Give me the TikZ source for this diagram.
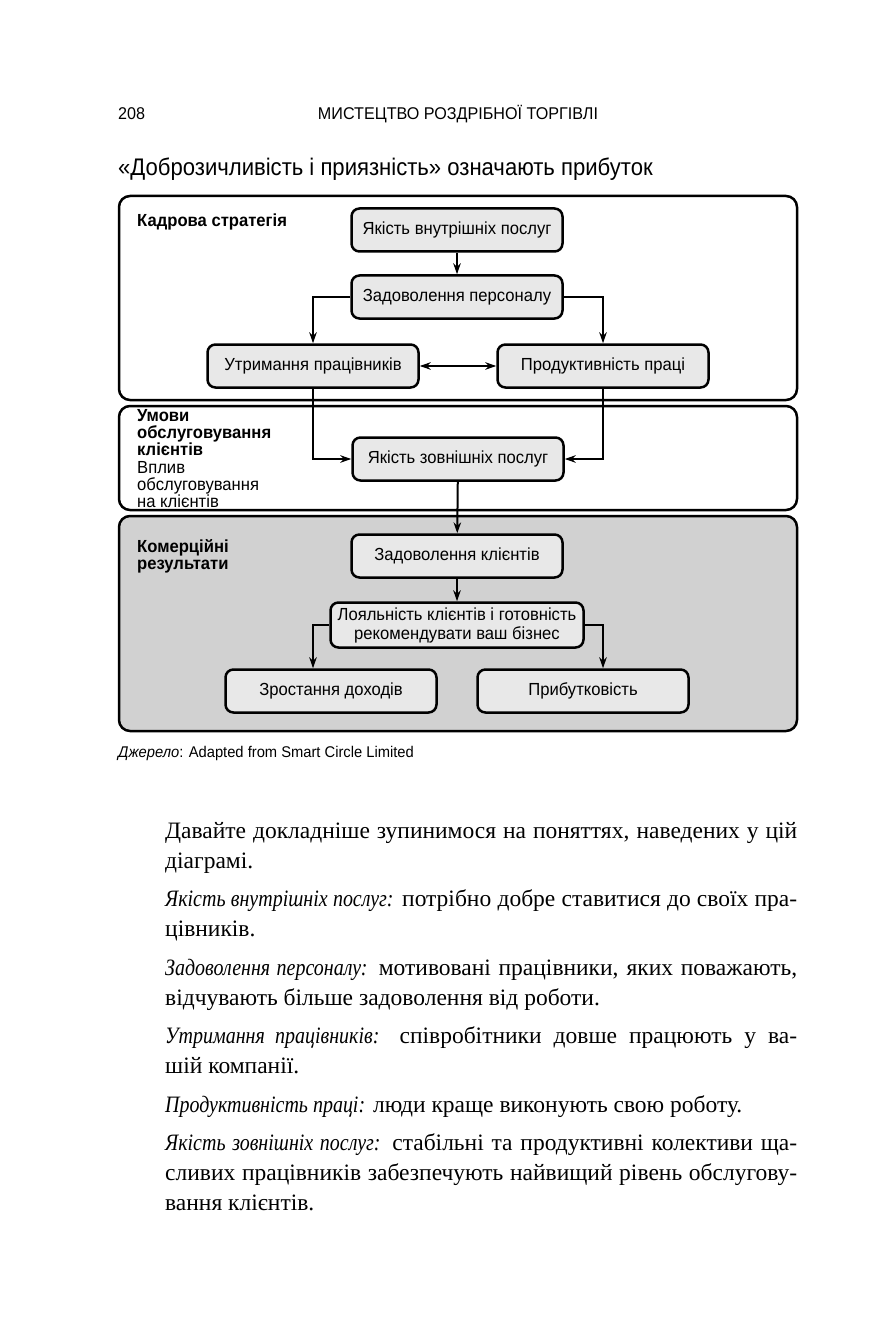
\documentclass[tikz,border=0pt]{standalone}
\usepackage{fontspec}
\setmainfont[ItalicFeatures={FakeStretch=0.85}]{Liberation Serif}
\newfontfamily\diagfont[FakeStretch=0.95]{Liberation Sans}
\newfontfamily\titlefont[FakeStretch=0.92]{Liberation Sans}
\usetikzlibrary{arrows.meta,positioning}

% One justified line of the running text.
\newcommand\jline[1]{\makebox[632pt][s]{#1}}

\tikzset{
  panel/.style={draw,line width=2.5pt,rounded corners=11pt},
  stage/.style={draw,line width=2.5pt,rounded corners=8pt,fill=black!9,
    minimum width=211pt,minimum height=43pt,inner sep=2pt,align=center,
    font=\diagfont\fontsize{17.5}{19}\selectfont},
  flow/.style={line width=2pt,-{Stealth[length=11pt,width=7.5pt]}},
  twoway/.style={line width=2pt,{Stealth[length=11pt,width=7.5pt]}-{Stealth[length=11pt,width=7.5pt]}},
  tag/.style={anchor=north west,inner sep=0pt,align=left,
    font=\diagfont\fontsize{17.5}{17}\selectfont},
  boldtag/.style={tag,font=\diagfont\bfseries\fontsize{17.5}{17}\selectfont},
  bodyline/.style={anchor=base west,inner sep=0pt,font=\fontsize{23.5}{30}\selectfont}
}

\begin{document}
\begin{tikzpicture}[x=1pt,y=-1pt]
  \useasboundingbox (0,0) rectangle (886,1329);
  \fill[white] (0,0) rectangle (886,1329);

  % The running head and the title.
  \path[inner sep=0pt,font=\diagfont\fontsize{17}{20}\selectfont]
    (118,120) node (folio) [anchor=base west] {208}
    (458,120) node (runhead) [anchor=base] {МИСТЕЦТВО РОЗДРІБНОЇ ТОРГІВЛІ};
  \node[anchor=base west,inner sep=0pt,font=\titlefont\fontsize{24}{26}\selectfont]
    (title) at (118,176) {«Доброзичливість і приязність» означають прибуток};

  % Draw the three panels.
  \draw[panel] (119,196) rectangle (797,400);
  \draw[panel] (119,406) rectangle (797,510);
  \draw[panel,fill=black!18] (119,516) rectangle (797,731);

  \node[boldtag] (hr) at (137,214) {Кадрова стратегія};
  \node[boldtag] (service) at (137,409) {Умови\\обслуговування\\клієнтів};
  \node[tag] (impact) at (137,461) {Вплив\\обслуговування\\на клієнтів};
  \node[boldtag] (results) at (137,539) {Комерційні\\результати};

  % The stages.
  \node[stage] (inner) at (457,230) {Якість внутрішніх послуг};
  \node[stage] (staff) at (457,297) {Задоволення персоналу};
  \node[stage] (retain) at (313,366) {Утримання працівників};
  \node[stage] (product) at (603,366) {Продуктивність праці};
  \node[stage] (outer) at (458,459) {Якість зовнішніх послуг};
  \node[stage] (client) at (457,556) {Задоволення клієнтів};
  \node[stage,minimum width=253pt,minimum height=45pt] (loyal) at (457,625)
    {Лояльність клієнтів і готовність\\рекомендувати ваш бізнес};
  \node[stage] (growth) at (331,691) {Зростання доходів};
  \node[stage] (profit) at (583,691) {Прибутковість};

  % Connect the stages.
  \draw[flow] (inner) -- (staff);
  \draw[flow] (staff.west) -| (retain.north);
  \draw[flow] (staff.east) -| (product.north);
  \draw[twoway] (retain) -- (product);
  \draw[flow] (retain.south) |- (outer.west);
  \draw[flow] (product.south) |- (outer.east);
  \draw[flow] (outer) -- (client);
  \draw[flow] (client) -- (loyal);
  \draw[flow] (loyal.west) -| (retain.south |- growth.north);
  \draw[flow] (loyal.east) -| (product.south |- profit.north);

  % The source line.
  \node[anchor=base west,inner sep=0pt,font=\diagfont\fontsize{15.5}{17}\selectfont]
    (source) at (118,757) {{\itshape Джерело}: Adapted from Smart Circle Limited};

  % The running text, line by line.
  \path[bodyline]
    (165,838) node (l1) {\jline{Давайте докладніше зупинимося на поняттях, наведених у цій}}
    (165,868) node (l2) {діаграмі.}
    (165,906) node (l3) {\jline{{\itshape Якість внутрішніх послуг:} потрібно добре ставитися до своїх пра-}}
    (165,936) node (l4) {цівників.}
    (165,975) node (l5) {\jline{{\itshape Задоволення персоналу:} мотивовані працівники, яких поважають,}}
    (165,1005) node (l6) {відчувають більше задоволення від роботи.}
    (165,1043) node (l7) {\jline{{\itshape Утримання працівників:} співробітники довше працюють у ва-}}
    (165,1073) node (l8) {шій компанії.}
    (165,1112) node (l9) {{\itshape Продуктивність праці:} люди краще виконують свою роботу.}
    (165,1150) node (l10) {\jline{{\itshape Якість зовнішніх послуг:} стабільні та продуктивні колективи ща-}}
    (165,1180) node (l11) {\jline{сливих працівників забезпечують найвищий рівень обслугову-}}
    (165,1210) node (l12) {вання клієнтів.};
\end{tikzpicture}
\end{document}
